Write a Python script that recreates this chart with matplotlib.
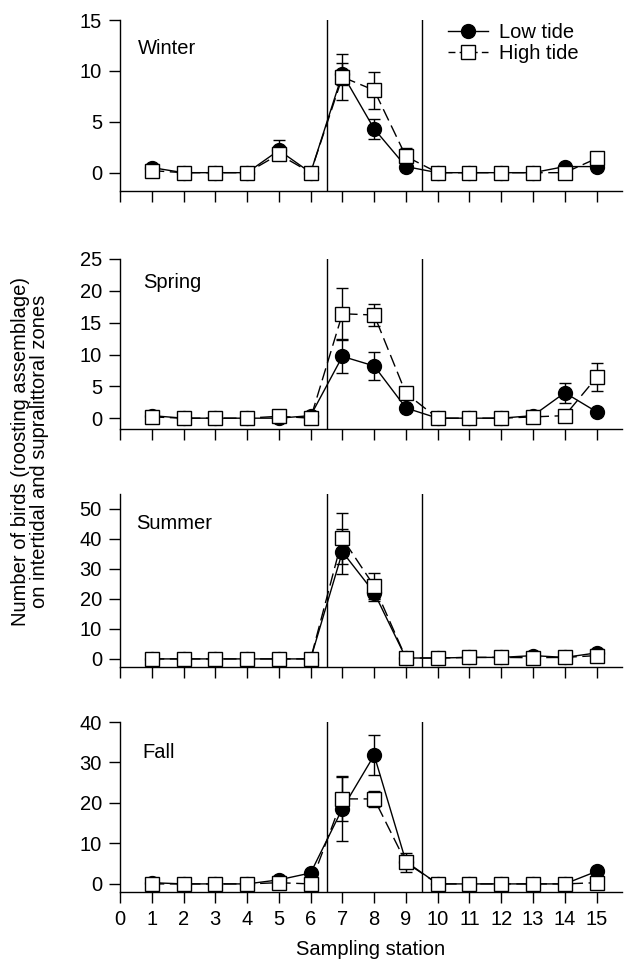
import matplotlib
matplotlib.use("Agg")
import matplotlib.pyplot as plt
from matplotlib.lines import Line2D
import numpy as np

plt.rcParams['font.family'] = ['Liberation Sans', 'DejaVu Sans']

stations = list(range(1, 16))
xticks = list(range(0, 16))
seasons = ["Winter", "Spring", "Summer", "Fall"]

winter_low = [0.5, 0, 0, 0, 2.2, 0, 9.7, 4.3, 0.6, 0, 0, 0, 0, 0.6, 0.6]
winter_low_err = [0, 0, 0, 0, 1.0, 0, 1.1, 1.0, 0, 0, 0, 0, 0, 0, 0]
winter_high = [0.2, 0, 0, 0, 1.8, 0, 9.4, 8.1, 1.6, 0, 0, 0, 0, 0, 1.4]
winter_high_err = [0, 0, 0, 0, 0, 0, 2.3, 1.8, 0.8, 0, 0, 0, 0, 0, 0]

spring_low = [0.4, 0, 0, 0, 0, 0.4, 9.7, 8.2, 1.6, 0, 0, 0, 0.4, 4.0, 1.0]
spring_low_err = [0, 0, 0, 0, 0, 0, 2.6, 2.2, 0, 0, 0, 0, 0, 1.6, 0]
spring_high = [0.2, 0, 0, 0, 0.3, 0, 16.4, 16.2, 3.9, 0, 0, 0, 0.2, 0.4, 6.4]
spring_high_err = [0, 0, 0, 0, 0, 0, 4.0, 1.8, 0, 0, 0, 0, 0, 0, 2.2]

summer_low = [0, 0, 0, 0, 0, 0, 35.7, 22.1, 0.3, 0.3, 0.5, 0.5, 1.1, 0.5, 2.0]
summer_low_err = [0, 0, 0, 0, 0, 0, 7.5, 2.8, 0, 0, 0, 0, 0, 0, 0]
summer_high = [0, 0, 0, 0, 0, 0, 40.2, 24.3, 0.3, 0.3, 0.5, 0.5, 0.4, 0.5, 1.1]
summer_high_err = [0, 0, 0, 0, 0, 0, 8.6, 4.3, 0, 0, 0, 0, 0, 0, 0]

fall_low = [0.3, 0, 0, 0, 1.0, 2.7, 18.6, 31.8, 5.5, 0, 0, 0, 0, 0, 3.1]
fall_low_err = [0, 0, 0, 0, 0, 0, 8.0, 5.0, 0, 0, 0, 0, 0, 0, 0]
fall_high = [0, 0, 0, 0, 0.3, 0, 21.0, 21.0, 5.3, 0, 0, 0, 0, 0, 0.3]
fall_high_err = [0, 0, 0, 0, 0, 0, 5.5, 2.0, 2.3, 0, 0, 0, 0, 0, 0]

low_data = [winter_low, spring_low, summer_low, fall_low]
low_errs = [winter_low_err, spring_low_err, summer_low_err, fall_low_err]
high_data = [winter_high, spring_high, summer_high, fall_high]
high_errs = [winter_high_err, spring_high_err, summer_high_err, fall_high_err]

yticks_list = [[0, 5, 10, 15], [0, 5, 10, 15, 20, 25], [0, 10, 20, 30, 40, 50], [0, 10, 20, 30, 40]]
ylims = [(-1.8, 15), (-1.7, 25), (-2.7, 55), (-2.0, 40)]
boundaries = [6.5, 9.5]

W, H = 633, 967
fig = plt.figure(figsize=(W / 100, H / 100), dpi=100)

# axes boxes in pixels: (top, bottom)
boxes = [(20, 191), (259, 429), (494, 667), (722, 892)]
title_pos = [(0.036, 0.836), (0.046, 0.86), (0.032, 0.83), (0.044, 0.82)]
left_px, right_px = 120, 622

fs = 14.5
hi_ls = (0, (9, 4))
for i, season in enumerate(seasons):
    top, bot = boxes[i]
    ax = fig.add_axes([left_px / W, 1 - bot / H, (right_px - left_px) / W, (bot - top) / H])
    ax.set_xlim(0, 15.8)
    ax.set_ylim(*ylims[i])
    for b in boundaries:
        ax.axvline(b, color='black', lw=1.0, zorder=1)
    lerr = np.array(low_errs[i], dtype=float)
    herr = np.array(high_errs[i], dtype=float)
    lerr_m = np.where(lerr > 0, lerr, np.nan)
    herr_m = np.where(herr > 0, herr, np.nan)
    ax.errorbar(stations, low_data[i], yerr=lerr_m, fmt='o', color='black',
                ecolor='black', elinewidth=1, capsize=4, capthick=1,
                ls='-', lw=1, markersize=10, mfc='black', mec='black', zorder=3)
    ax.errorbar(stations, high_data[i], yerr=herr_m, fmt='s', color='black',
                ecolor='black', elinewidth=1, capsize=4, capthick=1,
                ls=hi_ls, lw=1, markersize=9.5, mfc='white', mec='black',
                mew=1, zorder=4)
    ax.spines['top'].set_visible(False)
    ax.spines['right'].set_visible(False)
    ax.spines['left'].set_linewidth(1)
    ax.spines['bottom'].set_linewidth(1)
    ax.set_xticks(xticks)
    ax.set_yticks(yticks_list[i])
    ax.tick_params(axis='both', direction='out', length=8, width=1, labelsize=fs, pad=5)
    if i < 3:
        ax.set_xticklabels([])
    else:
        ax.set_xticklabels([str(t) for t in xticks])
        ax.set_xlabel("Sampling station", fontsize=fs, labelpad=8)
    ax.text(title_pos[i][0], title_pos[i][1], season, transform=ax.transAxes,
            fontsize=fs, ha='left', va='center')
    if i == 0:
        handles = [
            Line2D([], [], color='black', lw=1, ls='-', marker='o', markersize=10,
                   mfc='black', mec='black'),
            Line2D([], [], color='black', lw=1, ls=(0, (5, 3)), marker='s', markersize=9.5,
                   mfc='white', mec='black'),
        ]
        ax.legend(handles, ["Low tide", "High tide"], loc='upper left',
                  bbox_to_anchor=(0.653, 0.985), frameon=False,
                  fontsize=fs, handlelength=2.0, handletextpad=0.55,
                  borderpad=0, borderaxespad=0, labelspacing=0.12, numpoints=1)

fig.text(30 / W, 0.533, "Number of birds (roosting assemblage)\non intertidal and supralittoral zones",
         rotation=90, ha='center', va='center', fontsize=fs, multialignment='center',
         linespacing=1.0)

fig.savefig("out.png", dpi=100)
